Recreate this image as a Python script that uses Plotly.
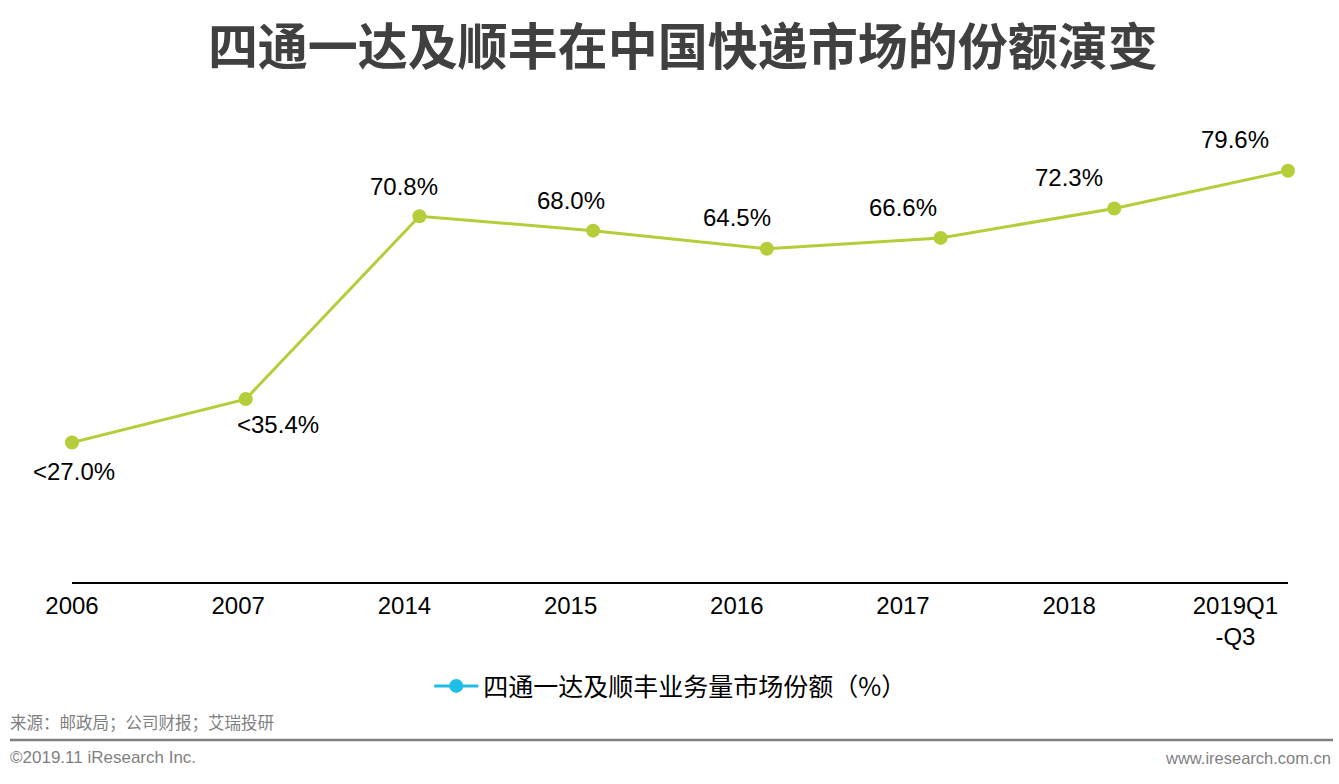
import plotly.graph_objects as go

categories = ["2006", "2007", "2014", "2015", "2016", "2017", "2018", "2019Q1<br>-Q3"]
share = [27.0, 35.4, 70.8, 68.0, 64.5, 66.6, 72.3, 79.6]
prefixes = ["<", "<", "", "", "", "", "", ""]
series_name = "四通一达及顺丰业务量市场份额（%）"
title_text = "四通一达及顺丰在中国快递市场的份额演变"
source_text = "来源：邮政局；公司财报；艾瑞投研"
copyright_text = "©2019.11 iResearch Inc."
site_text = "www.iresearch.com.cn"

LINE = "#B3CE38"
LEGEND_C = "#1EBFE6"
FONT = "Liberation Sans, Arial, Noto Sans CJK SC, sans-serif"
CJK = "Noto Sans CJK SC, sans-serif"

idx = list(range(len(categories)))
PW = 1216                      # plot width in px
LABEL_STEP = 166.2             # spacing of the category labels (px) in the original layout

fig = go.Figure()
fig.add_trace(go.Scatter(
    x=idx, y=share, mode="lines+markers",
    line=dict(color=LINE, width=3), marker=dict(color=LINE, size=14),
    showlegend=False, cliponaxis=False, hoverinfo="skip"))
# invisible carrier for the label axis
fig.add_trace(go.Scatter(
    x=idx, y=share, xaxis="x2", mode="markers", marker=dict(opacity=0),
    showlegend=False, hoverinfo="skip"))
fig.add_trace(go.Scatter(
    x=[None], y=[None], mode="lines+markers", name=series_name,
    line=dict(color=LEGEND_C, width=3), marker=dict(color=LEGEND_C, size=14)))

# data labels
shifts = [(2, -29), (40, -25), (0, 29.5), (0, 30.5), (0, 31), (0, 30.5), (0, 30.5), (0, 31.5)]
for i, (v, p) in enumerate(zip(share, prefixes)):
    dx, dy = shifts[i]
    fig.add_annotation(x=i, y=v, xref="x2", yref="y", text=f"{p}{v:.1f}%", showarrow=False,
                       xshift=dx, yshift=dy, font=dict(family=FONT, size=24, color="#000000"))

# footer
fig.add_annotation(xref="paper", yref="paper", x=(8 - 72) / PW, y=-0.301, xanchor="left", yanchor="middle",
                   text=source_text, showarrow=False, font=dict(family=CJK, size=16.5, color="#7f7f7f"))
fig.add_annotation(xref="paper", yref="paper", x=(8 - 72) / PW, y=-0.378, xanchor="left", yanchor="middle",
                   text=copyright_text, showarrow=False, font=dict(family=FONT, size=17, color="#7f7f7f"))
fig.add_annotation(xref="paper", yref="paper", x=(1333 - 72) / PW, y=-0.378, xanchor="right", yanchor="middle",
                   text=site_text, showarrow=False, font=dict(family=FONT, size=16.5, color="#7f7f7f"))
fig.add_shape(type="line", xref="paper", yref="paper", x0=(10 - 72) / PW, x1=(1333 - 72) / PW,
              y0=-0.340, y1=-0.340, line=dict(color="#7f7f7f", width=2.5))

fig.update_layout(
    width=1339, height=784,
    margin=dict(l=72, r=51, t=117, b=202),
    paper_bgcolor="white", plot_bgcolor="white",
    title=dict(text=f"<b>{title_text}</b>", x=0.51, xanchor="center", y=1 - 47 / 784, yanchor="middle",
               font=dict(family=CJK, size=50, color="#404040")),
    xaxis=dict(range=[0, len(categories) - 1], showticklabels=False,
               showgrid=False, zeroline=False, showline=True, linecolor="#000000", linewidth=2,
               ticks="", automargin=False),
    xaxis2=dict(range=[0, PW / LABEL_STEP], overlaying="x", side="bottom", anchor="y",
                tickmode="array", tickvals=idx, ticktext=categories,
                showgrid=False, zeroline=False, showline=False, ticks="",
                tickfont=dict(family=FONT, size=24, color="#000000"), ticklabelstandoff=7,
                automargin=False),
    yaxis=dict(range=[0, 90], visible=False, showgrid=False, zeroline=False, automargin=False),
    legend=dict(orientation="h", x=0.4924, xanchor="center", y=-0.224, yanchor="middle",
                font=dict(family=CJK, size=25, color="#000000"), itemwidth=44),
    hovermode=False,
)
fig.write_html("out.html", config={"displayModeBar": False},
               post_script="document.body.style.margin='0';document.body.style.overflow='hidden';")
